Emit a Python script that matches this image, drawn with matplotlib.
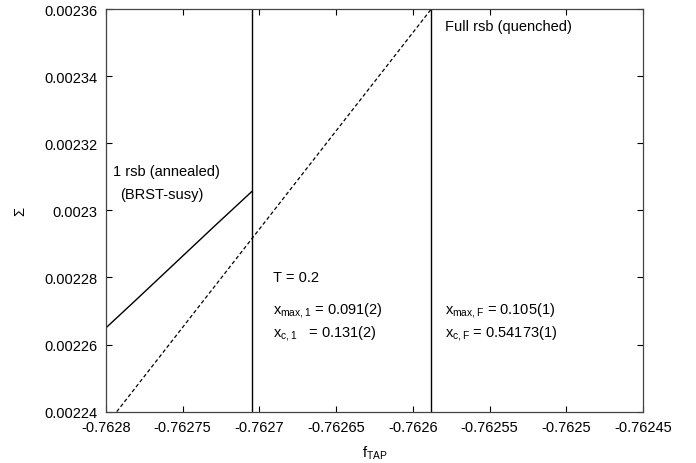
import matplotlib
matplotlib.use('Agg')
import matplotlib.pyplot as plt
import numpy as np

plt.rcParams['font.family'] = ['Liberation Sans', 'DejaVu Sans']
plt.rcParams['mathtext.fontset'] = 'custom'
plt.rcParams['mathtext.rm'] = 'Liberation Sans'
plt.rcParams['mathtext.it'] = 'Liberation Sans:italic'

# 1 rsb (annealed) branch
f_1rsb = [-0.7628, -0.76278, -0.76273, -0.762705]
sigma_1rsb = [0.002265, 0.0022735, 0.002295, 0.0023056]

# full rsb (quenched) branch
f_full = [-0.762793, -0.762588]
sigma_full = [0.00224, 0.00236]

# vertical markers
f_marks = [-0.762705, -0.762588]

xticks = [-0.7628, -0.76275, -0.7627, -0.76265, -0.7626, -0.76255, -0.7625, -0.76245]
xticklabels = ['-0.7628', '-0.76275', '-0.7627', '-0.76265', '-0.7626', '-0.76255', '-0.7625', '-0.76245']
yticks = [0.00224, 0.00226, 0.00228, 0.0023, 0.00232, 0.00234, 0.00236]
yticklabels = ['0.00224', '0.00226', '0.00228', '0.0023', '0.00232', '0.00234', '0.00236']

fig = plt.figure(figsize=(6.96, 4.64), dpi=100)
ax = fig.add_axes([0.1523, 0.1106, 0.9239 - 0.1523, 0.9784 - 0.1106])

ax.plot(f_1rsb, sigma_1rsb, color='black', lw=1.0)
ax.plot(f_full, sigma_full, color='black', lw=0.9, ls=(0, (3, 2)))
for xm in f_marks:
    ax.axvline(xm, color='black', lw=1.0)

ax.set_xlim(-0.7628, -0.76245)
ax.set_ylim(0.00224, 0.00236)
ax.set_xticks(xticks)
ax.set_xticklabels(xticklabels)
ax.set_yticks(yticks)
ax.set_yticklabels(yticklabels)
ax.tick_params(direction='in', length=4.5, width=0.8, labelsize=10.5,
               top=True, right=True, pad=6)
for s in ax.spines.values():
    s.set_linewidth(0.9)
    s.set_color('#444444')

ax.set_xlabel(r'f$_{\mathrm{TAP}}$', fontsize=10.5, labelpad=7)
ax.set_ylabel(r'$\Sigma$', fontsize=10.5, labelpad=12)

fs = 10.5


def px(x, y):
    # figure pixel coords measured from top-left
    return fig.transFigure.inverted().transform((x, 464 - y))


labels = [(113, 172, '1 rsb (annealed)'),
          (120, 195, '(BRST-susy)'),
          (445, 27, 'Full rsb (quenched)'),
          (273, 278, 'T = 0.2'),
          (273, 311, r'x$_{\mathrm{max,1}}$ = 0.091(2)'),
          (273, 334, r'x$_{\mathrm{c,1}}$   = 0.131(2)'),
          (445, 311, r'x$_{\mathrm{max,F}}$ = 0.105(1)'),
          (445, 334, r'x$_{\mathrm{c,F}}$ = 0.54173(1)')]
for (xp, yp, s) in labels:
    fx, fy = px(xp, yp)
    fig.text(fx, fy, s, fontsize=fs, va='center')

fig.savefig('out.png', dpi=100)
